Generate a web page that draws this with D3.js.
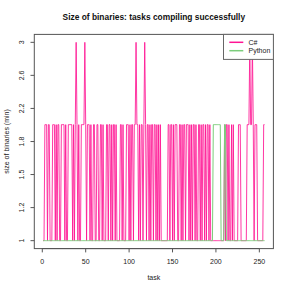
<!DOCTYPE html>
<html><head><meta charset="utf-8">
<script src="https://cdn.jsdelivr.net/npm/d3@7"></script>
<style>html,body{margin:0;padding:0;background:#fff;}svg{display:block;font-family:"Liberation Sans",Arial,sans-serif;}</style>
</head><body>
<svg id="c" width="291" height="291"></svg>
<script>
// ---- data ----
const title = "Size of binaries: tasks compiling successfully";
const xLabel = "task";
const yLabel = "size of binaries (min)";
const seriesNames = ["C#", "Python"];
const seriesColors = ["#FF1493", "#7CCD7C"];
const csharp = [
 1,1,
 2,2,2,1,2,2,1,1,1,2, 2,2,1,2,1,2,2,1,1,2, 2,2,2,1,2,1,1,2,2,2, 2,2,1,2,
 1,2,
 3,
 2,1,2,1,1,2,2,2,2,
 3,
 2,1,2,2,2,1,2,1,1,2, 2,1,1,2,2,1,1,2,2,1, 2,1,1,1,2,2,1,2,2,1, 2,1,
 2,2,1,2,1,1,1,1,2,2, 1,2,1,1,1,2,2,2,1,2, 1,2,2,1,2,2,
 3,
 2,2,1,2,1,2,2,1,2,
 3,
 2,1,2,2,1,2,1,2,2,1, 2,2,1,2,1,2,1,2,1,
 1,1,1,1,1,1,1,
 2,2,1,2,2,1,2,1,2,2, 2,1,1,2,2,1,2,1,2,2, 1,2,2,2,1,2,1,2,1,2, 2,1,2,1,1,2,2,1,2,1, 2,2,1,2,1,2,2,1,2,
 1,1,1,1,1,1,1,1,1,1,1,1,1,1,1,1,
 2,1,2,2,1,2,1,1,2,1,2,
 1,1,1,1,1,
 2,2,2,
 1,1,1,1,1,1,1,
 2,2,2,
 3,
 2,2,
 3,
 2,1,2,2,2,
 1,1,1,1,1,1,1,
 2,2
];
const python = [
 1,1,1,1,1,1,1,1,1,1, 1,1,1,1,1,1,1,1,1,1,
 1,1,1,1,1,1,1,1,1,1, 1,1,1,1,1,1,1,1,1,1,
 1,1,1,1,1,1,1,1,1,1, 1,1,1,1,1,1,1,1,1,1,
 1,1,1,1,1,1,1,1,1,1, 1,1,1,1,1,1,1,1,1,1,
 1,1,1,1,1,1,1,1,1,1, 1,1,1,1,1,1,1,1,1,1,
 1,1,1,1,1,1,1,1,1,1, 1,1,1,1,1,1,1,1,1,1,
 1,1,1,1,1,1,1,1,1,1, 1,1,1,1,1,1,1,1,1,1,
 1,1,1,1,1,1,1,1,1,1, 1,1,1,1,1,1,1,1,1,1,
 1,1,1,1,1,1,1,1,1,1, 1,1,1,1,1,1,1,1,1,1,
 1,1,1,1,1,1,1,1,1,1, 1,1,1,1,1,1,
 2,2,2,2,2,2,2,2,2,
 1,1,1,1,
 2,2,
 1,1,1,1,1,1,1,1,1,1, 1,1,1,1,1,1,1,1,1,1,
 1,1,1,1,1,1,1,1,1,1, 1,1,1,1,1,1,1,1,1,1,
 1,1,1,1,1
];
const xTicks = [0, 50, 100, 150, 200, 250];
const yTicks = [1, 1.245, 1.520, 1.828, 2.175, 2.564, 3];
const yTickLabels = ["1", "1.2", "1.5", "1.8", "2.2", "2.6", "3"];

// ---- layout ----
const svg = d3.select("#c");
const L = 34.3, R = 273.4, T = 34.4, B = 248.6;
const n = csharp.length;
const xpad = (n - 1) * 0.04;
const x = d3.scaleLinear().domain([1 - xpad, n + xpad]).range([L, R]);
const tf = v => Math.log(v + 1);
const ylo = tf(1), yhi = tf(3), ypad = (yhi - ylo) * 0.04;
const ys = d3.scaleLinear().domain([ylo - ypad, yhi + ypad]).range([B, T]);
const y = v => ys(tf(v));

const ink = "#222";
// title
svg.append("text").attr("x", (L + R) / 2).attr("y", 17).attr("text-anchor", "middle")
  .attr("dominant-baseline", "central").attr("font-weight", "bold").attr("font-size", 8.4)
  .attr("fill", "#111").text(title);

// series lines
const line = d3.line().x((d, i) => x(i + 1)).y(d => y(d));
svg.append("path").datum(csharp).attr("d", line).attr("fill", "none")
  .attr("stroke", seriesColors[0]).attr("stroke-width", 1).attr("stroke-opacity", 0.85);
svg.append("path").datum(python).attr("d", line).attr("fill", "none")
  .attr("stroke", seriesColors[1]).attr("stroke-width", 1);

// box
svg.append("rect").attr("x", L).attr("y", T).attr("width", R - L).attr("height", B - T)
  .attr("fill", "none").attr("stroke", "#555").attr("stroke-width", 1);

// x axis
const xa = svg.append("g");
xTicks.forEach(t => {
  xa.append("line").attr("x1", x(t)).attr("x2", x(t)).attr("y1", B).attr("y2", B + 3.8)
    .attr("stroke", "#555");
  xa.append("text").attr("x", x(t)).attr("y", 261.3).attr("text-anchor", "middle")
    .attr("dominant-baseline", "central").attr("font-size", 7).attr("fill", ink).text(t);
});
xa.append("line").attr("x1", x(xTicks[0])).attr("x2", x(xTicks[xTicks.length - 1]))
  .attr("y1", B).attr("y2", B).attr("stroke", "#555");
svg.append("text").attr("x", (L + R) / 2).attr("y", 277.3).attr("text-anchor", "middle")
  .attr("dominant-baseline", "central").attr("font-size", 7).attr("fill", ink).text(xLabel);

// y axis
const ya = svg.append("g");
yTicks.forEach((t, i) => {
  ya.append("line").attr("x1", L - 3.8).attr("x2", L).attr("y1", y(t)).attr("y2", y(t))
    .attr("stroke", "#555");
  ya.append("text").attr("transform", `translate(21,${y(t)}) rotate(-90)`)
    .attr("text-anchor", "middle").attr("dominant-baseline", "central")
    .attr("font-size", 7).attr("fill", ink).text(yTickLabels[i]);
});
svg.append("text").attr("transform", `translate(6,${(T + B) / 2}) rotate(-90)`)
  .attr("text-anchor", "middle").attr("dominant-baseline", "central")
  .attr("font-size", 7).attr("fill", ink).text(yLabel);

// legend
const lg = svg.append("g");
lg.append("rect").attr("x", 223.5).attr("y", T).attr("width", R - 223.5).attr("height", 25)
  .attr("fill", "#fff").attr("stroke", "#666").attr("stroke-width", 1);
seriesNames.forEach((s, i) => {
  const yy = 42.3 + i * 8.4;
  lg.append("line").attr("x1", 229.3).attr("x2", 243.3).attr("y1", yy).attr("y2", yy)
    .attr("stroke", seriesColors[i]).attr("stroke-width", 1.5);
  lg.append("text").attr("x", 248.5).attr("y", yy).attr("dominant-baseline", "central")
    .attr("font-size", 7).attr("fill", ink).text(s);
});
</script>
</body></html>
